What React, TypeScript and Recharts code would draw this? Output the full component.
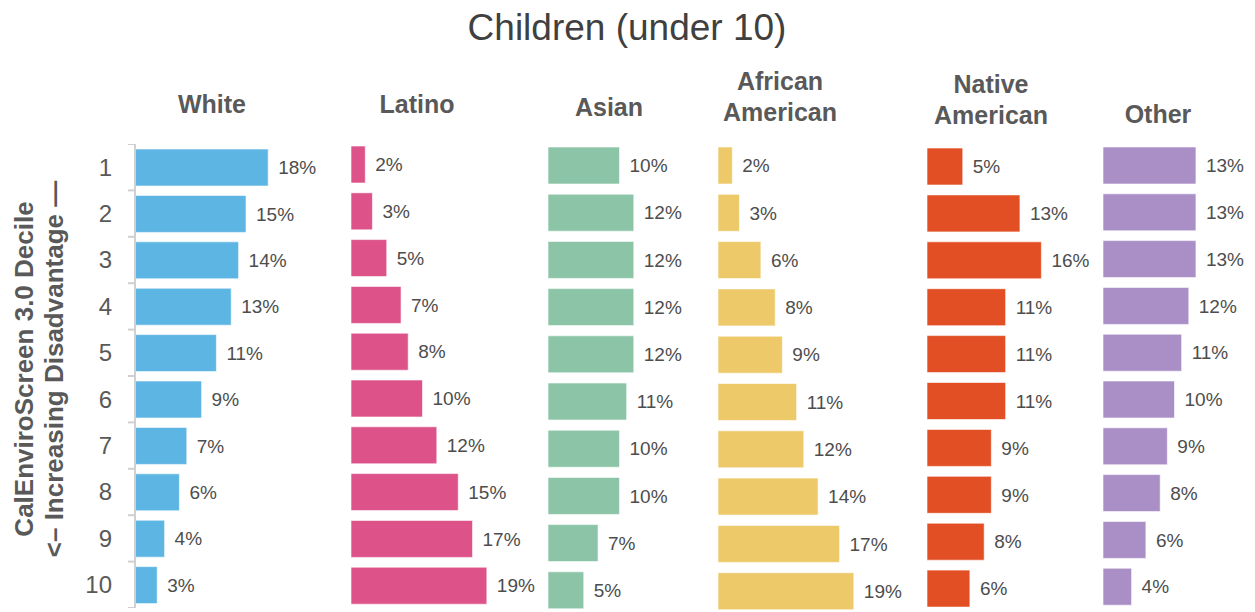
import React from 'react';
import { BarChart, Bar, XAxis, YAxis, LabelList } from 'recharts';

// ---- Data ----
const deciles = ['1', '2', '3', '4', '5', '6', '7', '8', '9', '10'];
const whiteValues = [18, 15, 14, 13, 11, 9, 7, 6, 4, 3];
const latinoValues = [2, 3, 5, 7, 8, 10, 12, 15, 17, 19];
const asianValues = [10, 12, 12, 12, 12, 11, 10, 10, 7, 5];
const africanAmericanValues = [2, 3, 6, 8, 9, 11, 12, 14, 17, 19];
const nativeAmericanValues = [5, 13, 16, 11, 11, 11, 9, 9, 8, 6];
const otherValues = [13, 13, 13, 12, 11, 10, 9, 8, 6, 4];

const chartTitle = 'Children (under 10)';
const axisTitleLine1 = 'CalEnviroScreen 3.0 Decile';
const axisTitleLine2 = '<– Increasing Disadvantage —';

// ---- Layout / style config ----
const FONT = '"Liberation Sans", Arial, sans-serif';
const TEXT_GRAY = '#595959';
const LABEL_GRAY = '#4d4d4d';
const X_DOMAIN: [number, number] = [0, 20];
const RIGHT_MARGIN = 60;

type Panel = {
  values: number[];
  color: string;
  left: number;
  top: number;
  height: number;
  plotWidth: number;
  axisWidth: number;
  headerLines: string[];
  headerX: number;
  headerY: number;
};

const panels: Panel[] = [
  { values: whiteValues, color: '#5DB5E3', left: 0, top: 143.8, height: 464, plotWidth: 148, axisWidth: 135, headerLines: ['White'], headerX: 212, headerY: 113 },
  { values: latinoValues, color: '#DD5289', left: 351, top: 140.6, height: 468, plotWidth: 143, axisWidth: 0, headerLines: ['Latino'], headerX: 417, headerY: 113 },
  { values: asianValues, color: '#8BC4A7', left: 548, top: 142.4, height: 472, plotWidth: 143, axisWidth: 0, headerLines: ['Asian'], headerX: 609, headerY: 116 },
  { values: africanAmericanValues, color: '#EEC96A', left: 718, top: 142.4, height: 473, plotWidth: 143, axisWidth: 0, headerLines: ['African', 'American'], headerX: 780, headerY: 90 },
  { values: nativeAmericanValues, color: '#E34F24', left: 927, top: 142.5, height: 469, plotWidth: 143, axisWidth: 0, headerLines: ['Native', 'American'], headerX: 991, headerY: 93 },
  { values: otherValues, color: '#AA8FC7', left: 1103, top: 141.6, height: 468, plotWidth: 143, axisWidth: 0, headerLines: ['Other'], headerX: 1158, headerY: 123 },
];

const TICK_MARGIN = 17;
const TICK_SIZE = 6;

function makeDecileTick(bandSize: number) {
  return function DecileTick(props: any) {
    const { x, y, payload, index } = props;
    const axisX = x + TICK_MARGIN + TICK_SIZE;
    const half = bandSize / 2;
    return (
      <g>
        <text
          x={x}
          y={y}
          dy="0.35em"
          textAnchor="end"
          fontSize={24}
          fontFamily={FONT}
          fill={TEXT_GRAY}
        >
          {payload.value}
        </text>
        <line x1={axisX - 7} x2={axisX} y1={y - half} y2={y - half} stroke="#d0d0d0" strokeWidth={2} />
        {index === deciles.length - 1 && (
          <line x1={axisX - 7} x2={axisX} y1={y + half} y2={y + half} stroke="#d0d0d0" strokeWidth={2} />
        )}
      </g>
    );
  };
}

function PanelChart({ panel }: { panel: Panel }) {
  const data = deciles.map((d, i) => ({ decile: d, value: panel.values[i] }));
  const width = panel.axisWidth + panel.plotWidth + RIGHT_MARGIN;
  const showAxis = panel.axisWidth > 0;
  const bandSize = panel.height / deciles.length;
  return (
    <div style={{ position: 'absolute', left: panel.left, top: panel.top }}>
      <BarChart
        width={width}
        height={panel.height}
        data={data}
        layout="vertical"
        margin={{ top: 0, right: RIGHT_MARGIN, bottom: 0, left: 0 }}
      >
        <XAxis type="number" domain={X_DOMAIN} hide />
        <YAxis
          type="category"
          dataKey="decile"
          hide={!showAxis}
          width={showAxis ? panel.axisWidth : 0}
          axisLine={{ stroke: '#d0d0d0', strokeWidth: 2 }}
          tickLine={false}
          tickSize={TICK_SIZE}
          tickMargin={TICK_MARGIN}
          tick={makeDecileTick(bandSize)}
          interval={0}
        />
        <Bar
          dataKey="value"
          fill={panel.color}
          stroke="rgba(255,255,255,0.6)"
          strokeWidth={1}
          barSize={37}
          isAnimationActive={false}
        >
          <LabelList
            dataKey="value"
            position="right"
            offset={10}
            formatter={(v: any) => `${v}%`}
            fill={LABEL_GRAY}
            fontSize={19}
            fontFamily={FONT}
          />
        </Bar>
      </BarChart>
    </div>
  );
}

export default function App() {
  return (
    <div
      style={{
        position: 'absolute',
        left: 0,
        top: 0,
        width: 1255,
        height: 612,
        overflow: 'hidden',
        background: '#ffffff',
        fontFamily: FONT,
      }}
    >
      <svg
        width={1255}
        height={612}
        style={{ position: 'absolute', left: 0, top: 0, pointerEvents: 'none' }}
      >
        <text x={627} y={40} textAnchor="middle" fontSize={37} fontFamily={FONT} fill="#404040">
          {chartTitle}
        </text>
        {panels.map((p, i) => (
          <text
            key={i}
            x={p.headerX}
            y={p.headerY}
            textAnchor="middle"
            fontSize={25}
            fontWeight="bold"
            fontFamily={FONT}
            fill={TEXT_GRAY}
          >
            {p.headerLines.map((line, j) => (
              <tspan key={j} x={p.headerX} dy={j === 0 ? 0 : 31}>
                {line}
              </tspan>
            ))}
          </text>
        ))}
        <text
          transform="rotate(-90)"
          x={-369}
          y={33}
          textAnchor="middle"
          fontSize={26}
          fontWeight="bold"
          fontFamily={FONT}
          fill={TEXT_GRAY}
        >
          {axisTitleLine1}
        </text>
        <text
          transform="rotate(-90)"
          x={-369}
          y={63}
          textAnchor="middle"
          fontSize={26}
          fontWeight="bold"
          fontFamily={FONT}
          fill={TEXT_GRAY}
        >
          {axisTitleLine2}
        </text>
      </svg>
      {panels.map((p, i) => (
        <PanelChart key={i} panel={p} />
      ))}
    </div>
  );
}
